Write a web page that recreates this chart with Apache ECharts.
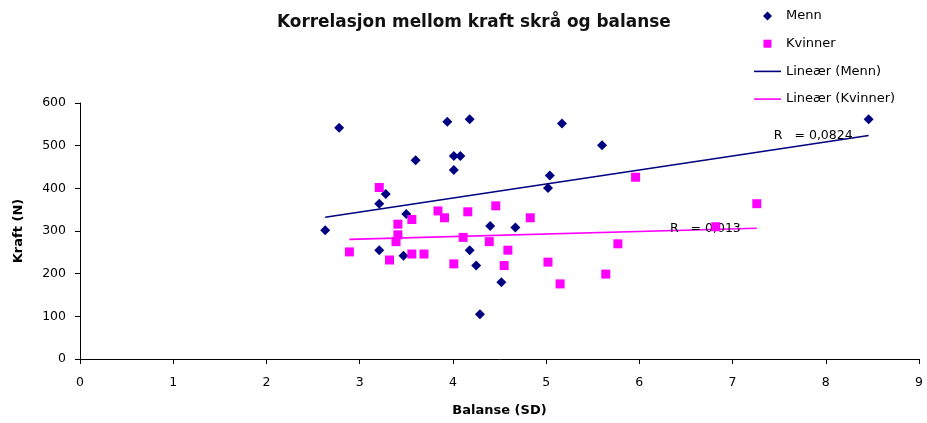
<!DOCTYPE html>
<html>
<head>
<meta charset="utf-8">
<script src="https://cdn.jsdelivr.net/npm/echarts@6/dist/echarts.min.js"></script>
<style>
  html, body { margin: 0; padding: 0; background: #fff; }
  #chart { width: 927px; height: 423px; }
</style>
</head>
<body>
<div id="chart"></div>
<script>
// Balanse (SD) and kraft (N) per person
const mennBalanse = [2.78, 3.94, 4.18, 3.60, 4.01, 4.08, 4.01, 3.28, 3.21, 3.50, 2.63, 4.40,
                     3.21, 4.18, 3.47, 4.25, 4.29, 5.17, 5.60, 5.04, 5.02, 4.67, 4.52, 8.46];
const mennKraft   = [542, 556, 562, 466, 476, 476, 443, 387, 364, 340, 302, 312,
                     255, 255, 242, 219, 105, 552, 501, 430, 401, 308, 180, 562];

const kvinnerBalanse = [3.21, 3.84, 3.91, 4.16, 4.46, 3.56, 3.41, 3.41, 3.39, 4.11, 4.39, 2.89, 3.32,
                        3.56, 3.69, 4.01, 5.96, 4.83, 4.59, 4.55, 5.02, 5.77, 5.64, 5.15, 7.26, 6.82];
const kvinnerKraft   = [402, 347, 331, 345, 359, 327, 316, 291, 275, 285, 275, 251, 232,
                        246, 246, 223, 426, 331, 255, 219, 227, 270, 199, 176, 364, 310];

const seriesNames = ['Menn', 'Kvinner', 'Lineær (Menn)', 'Lineær (Kvinner)'];
const rMenn = 'R   = 0,0824';
const rKvinner = 'R   = 0,013';

// least-squares trend line spanning the range of x values
function trend(xs, ys) {
  const n = xs.length;
  const mx = xs.reduce((a, b) => a + b, 0) / n;
  const my = ys.reduce((a, b) => a + b, 0) / n;
  let sxy = 0, sxx = 0;
  for (let i = 0; i < n; i++) {
    sxy += (xs[i] - mx) * (ys[i] - my);
    sxx += (xs[i] - mx) * (xs[i] - mx);
  }
  const b = sxy / sxx, a = my - b * mx;
  const x0 = Math.min(...xs), x1 = Math.max(...xs);
  return [[x0, a + b * x0], [x1, a + b * x1]];
}

function zip(xs, ys) { return xs.map((x, i) => [x, ys[i]]); }

function lineData(pts, text) {
  return [
    { value: pts[0] },
    { value: pts[1], label: { show: true, formatter: text, position: 'left', distance: 16,
        fontFamily: 'DejaVu Sans', fontSize: 12.5, color: '#000' } }
  ];
}

const MENN = '#000080';
const KVINNER = '#FF00FF';
const FONT = 'DejaVu Sans';
// legend icons drawn in a 27x9 box; the zero-length corner segments keep the box size
const lineIcon = 'path://M0,3.7H27V5.3H0Z';
const diamondIcon = 'path://M0,0L0,0M13.5,0L18,4.5L13.5,9L9,4.5ZM27,9L27,9';
const squareIcon = 'path://M0,0L0,0M9.5,0.5H17.5V8.5H9.5ZM27,9L27,9';

const chart = echarts.init(document.getElementById('chart'), null, { renderer: 'canvas' });
chart.setOption({
  animation: false,
  backgroundColor: '#fff',
  title: {
    text: 'Korrelasjon mellom kraft skrå og balanse',
    left: 272, top: 9,
    textStyle: { fontFamily: FONT, fontWeight: 'bold', fontSize: 16.9, color: '#111' }
  },
  legend: {
    orient: 'vertical', left: 754, top: 9, padding: 0,
    itemWidth: 27, itemHeight: 9, itemGap: 13.7,
    textStyle: { fontFamily: FONT, fontSize: 13, color: '#000', lineHeight: 14 },
    data: [
      { name: seriesNames[0], icon: diamondIcon },
      { name: seriesNames[1], icon: squareIcon },
      { name: seriesNames[2], icon: lineIcon },
      { name: seriesNames[3], icon: lineIcon }
    ]
  },
  grid: { left: 80, right: 8, top: 103, bottom: 64, containLabel: false },
  xAxis: {
    type: 'value', min: 0, max: 9, interval: 1,
    name: 'Balanse (SD)', nameLocation: 'middle', nameGap: 45,
    nameTextStyle: { fontFamily: FONT, fontWeight: 'bold', fontSize: 13, color: '#000' },
    axisLine: { show: true, onZero: false, lineStyle: { color: '#000', width: 1 } },
    axisTick: { show: true, inside: false, length: 5, lineStyle: { color: '#000' } },
    axisLabel: { margin: 17, fontFamily: FONT, fontSize: 12.5, color: '#000' },
    splitLine: { show: false }
  },
  yAxis: {
    type: 'value', min: 0, max: 600, interval: 100,
    name: 'Kraft (N)', nameLocation: 'middle', nameGap: 55,
    nameTextStyle: { fontFamily: FONT, fontWeight: 'bold', fontSize: 13, color: '#000' },
    axisLine: { show: true, onZero: false, lineStyle: { color: '#000', width: 1 } },
    axisTick: { show: true, inside: false, length: 5, lineStyle: { color: '#000' } },
    axisLabel: { margin: 14, fontFamily: FONT, fontSize: 12.5, color: '#000' },
    splitLine: { show: false }
  },
  series: [
    {
      name: seriesNames[0], type: 'scatter', symbol: 'diamond', symbolSize: 10,
      itemStyle: { color: MENN, opacity: 1 }, data: zip(mennBalanse, mennKraft), z: 3
    },
    {
      name: seriesNames[1], type: 'scatter', symbol: 'rect', symbolSize: 9,
      itemStyle: { color: KVINNER, opacity: 1 }, data: zip(kvinnerBalanse, kvinnerKraft), z: 3
    },
    {
      name: seriesNames[2], type: 'line', color: MENN,
      symbol: 'circle', symbolSize: 0, showSymbol: true,
      lineStyle: { color: MENN, width: 1.6 }, itemStyle: { color: MENN },
      data: lineData(trend(mennBalanse, mennKraft), rMenn), z: 2
    },
    {
      name: seriesNames[3], type: 'line', color: KVINNER,
      symbol: 'circle', symbolSize: 0, showSymbol: true,
      lineStyle: { color: KVINNER, width: 1.6 }, itemStyle: { color: KVINNER },
      data: lineData(trend(kvinnerBalanse, kvinnerKraft), rKvinner), z: 2
    }
  ]
});
</script>
</body>
</html>
